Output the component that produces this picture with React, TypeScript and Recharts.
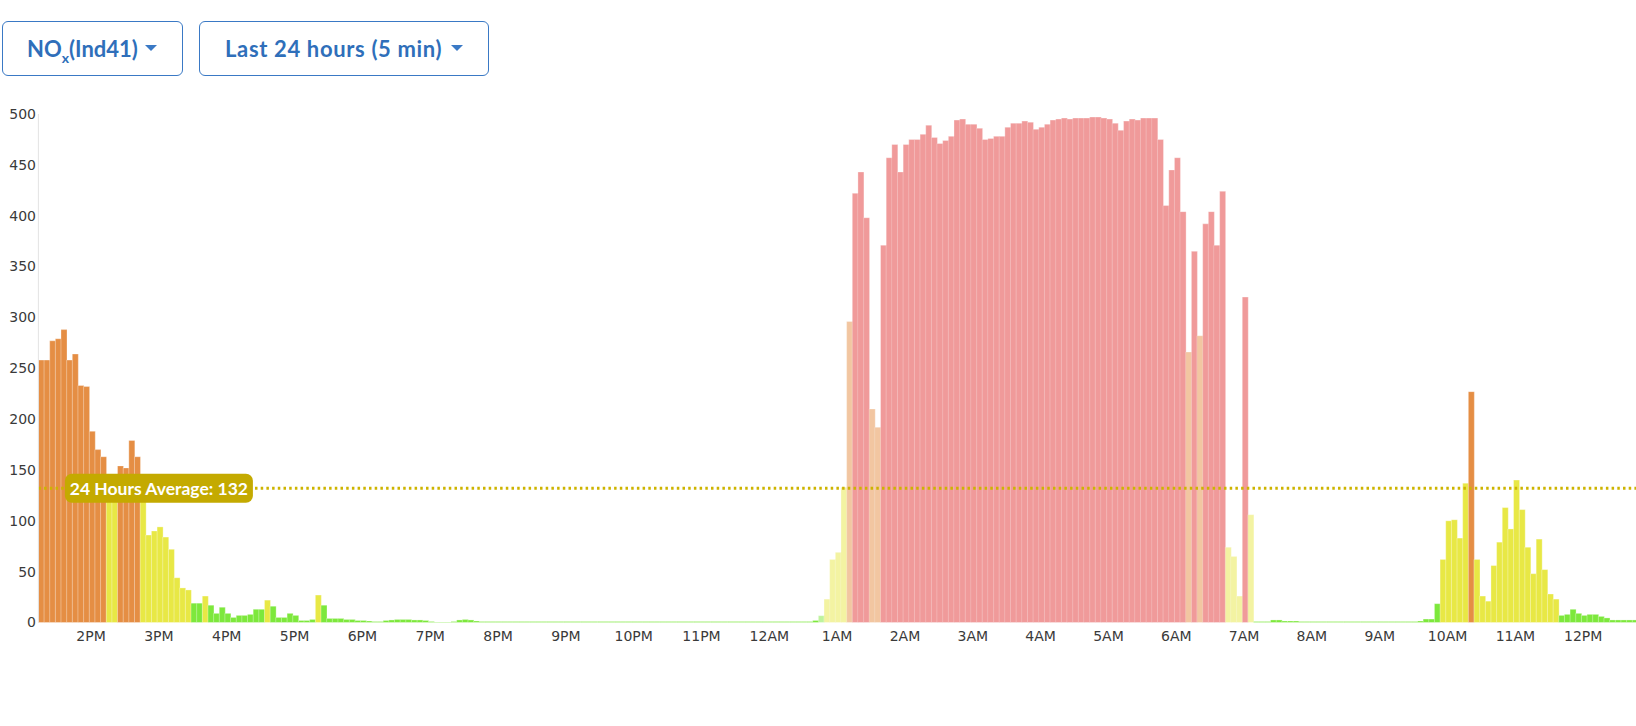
import React from "react";
import { Bar, BarChart, Cell, ReferenceLine, XAxis, YAxis } from "recharts";

// 5-minute NOx readings, first slot = 1:15 PM
const afternoonValues = [
  258, 258, 277, 279, 288, 258, 264, 233, 232, 188, 170, 163,
  140, 138, 154, 152, 179, 163, 125, 86, 90, 94, 84, 72,
  44, 34, 32, 19, 19, 26, 17, 9, 15, 9, 5, 7,
  7, 8, 13, 13, 22, 16, 5, 5, 9, 7, 2, 2,
  3, 27, 17, 4, 4, 4, 3, 3, 2, 2, 1.5, 1,
];
const eveningValues = [
  1, 2, 2.5, 3, 3, 3, 2.5, 2.5, 2, 1, 0.5, 0.5,
  0.5, 1, 2.5, 3, 2.5, 1.5, 1, 1, 1, 1, 1, 1,
  1, 1, 1, 1, 1, 1, 1, 1, 1, 1, 1, 1,
  1, 1, 1, 1, 1, 1, 1, 1, 1, 1, 1, 1,
  1, 1, 1, 1, 1, 1, 1, 1, 1, 1, 1, 1,
  1, 1, 1, 1, 1, 1, 1, 1, 1, 1, 1, 1,
  1, 1, 1, 1, 1, 2,
];
const nightValues = [
  6.7, 23, 62, 69, 133, 296, 422, 443, 398, 210, 192, 371,
  457, 470, 443, 470, 475, 475, 480, 489, 477, 471, 474, 478,
  494, 495, 490, 490, 486, 475, 476, 478, 478, 487, 491, 491,
  493, 492, 485, 487, 490, 494, 495, 496, 495, 496, 496, 496,
  497, 497, 496, 495, 491, 484, 493, 495, 494, 496, 496, 496,
  475, 410, 445, 457, 404, 266, 365, 282, 392, 404, 371, 424,
  74, 65, 26, 320, 106,
];
const morningValues = [
  1, 1, 1, 2.5, 2.5, 1.5, 1.5, 1.5, 1, 1, 1, 1,
  1, 1, 1, 1, 1, 1, 1, 1, 1, 1, 1, 1,
  1, 1, 1, 1, 1, 1.5, 3.4, 3.4, 18.5, 62, 100, 101,
  83, 137, 227, 62, 26, 21, 56, 79, 113, 92, 140, 111,
  74, 48, 82, 52, 28, 23, 7, 8, 13, 9, 7, 8,
  8, 6, 4.5, 2.5, 2.5, 2.5, 2.5, 2.5,
];

const hourLabels = [
  "2PM", "3PM", "4PM", "5PM", "6PM", "7PM", "8PM", "9PM", "10PM", "11PM", "12AM",
  "1AM", "2AM", "3AM", "4AM", "5AM", "6AM", "7AM", "8AM", "9AM", "10AM", "11AM", "12PM",
];
const yTicks = [0, 50, 100, 150, 200, 250, 300, 350, 400, 450, 500];

const FIRST_HOUR_SLOT = 9; // 2PM
const SLOTS_PER_HOUR = 12;
const AVERAGE = 132;

// level thresholds -> colour
const levelLimits = [20, 150, 300, Infinity];
const levelColors = ["#7de83c", "#e8e845", "#e58e44", "#e23535"];

// the night block is drawn faded
const fadedStart = afternoonValues.length + eveningValues.length;
const fadedEnd = fadedStart + nightValues.length;

const values = [...afternoonValues, ...eveningValues, ...nightValues, ...morningValues];
const data = values.map((v, i) => ({ slot: i, v }));

const colorFor = (v: number) => levelColors[levelLimits.findIndex((l) => v < l)];

const FONT = "'DejaVu Sans', sans-serif";

function HourTick({ x, payload }: any) {
  const h = payload.value - FIRST_HOUR_SLOT;
  if (h < 0 || h % SLOTS_PER_HOUR !== 0) return <g />;
  const label = hourLabels[h / SLOTS_PER_HOUR];
  if (!label) return <g />;
  return (
    <text x={x - 1} y={641} textAnchor="middle" fontFamily={FONT} fontSize={14} fill="#3a3a3a">
      {label}
    </text>
  );
}

function ValueTick({ y, payload }: any) {
  return (
    <text x={36} y={y} dy="0.35em" textAnchor="end" fontFamily={FONT} fontSize={14} fill="#3a3a3a">
      {payload.value}
    </text>
  );
}

function AverageLabel({ viewBox }: any) {
  const x = viewBox.x + 26.5;
  const y = viewBox.y - 14.5;
  return (
    <g>
      <rect x={x} y={y} width={188} height={29} rx={7} fill="#c4aa00" />
      <text
        x={x + 94}
        y={y + 15}
        dy="0.35em"
        textAnchor="middle"
        fill="#fff"
        fontFamily="Lato, sans-serif"
        fontWeight={700}
        fontSize={17.5}
      >
        24 Hours Average: {AVERAGE}
      </text>
    </g>
  );
}

function Caret({ left }: { left: number }) {
  return (
    <div
      style={{
        position: "absolute",
        left,
        top: 45,
        width: 0,
        height: 0,
        borderLeft: "6px solid transparent",
        borderRight: "6px solid transparent",
        borderTop: "6px solid #3a79c5",
      }}
    />
  );
}

const buttonStyle: React.CSSProperties = {
  position: "absolute",
  top: 21,
  height: 55,
  boxSizing: "border-box",
  border: "1px solid #3a79c5",
  borderRadius: 6,
  background: "#fff",
};

const buttonText: React.CSSProperties = {
  position: "absolute",
  top: 0,
  lineHeight: "53px",
  fontFamily: "Lato, sans-serif",
  fontWeight: 700,
  fontSize: 22,
  color: "#2f6fba",
  whiteSpace: "nowrap",
};

export default function App() {
  return (
    <div
      style={{
        position: "absolute",
        left: 0,
        top: 0,
        width: 1636,
        height: 726,
        overflow: "hidden",
        background: "#fff",
      }}
    >
      <div style={{ ...buttonStyle, left: 2, width: 181 }}>
        <span style={{ ...buttonText, left: 24 }}>
          NO<sub style={{ fontSize: 14, verticalAlign: "-6px" }}>x</sub>(Ind41)
        </span>
      </div>
      <Caret left={145} />
      <div style={{ ...buttonStyle, left: 199, width: 290 }}>
        <span style={{ ...buttonText, left: 25, letterSpacing: 0.65 }}>Last 24 hours (5 min)</span>
      </div>
      <Caret left={451} />

      <div style={{ position: "absolute", left: 0, top: 0 }}>
        <BarChart
          width={1640}
          height={700}
          data={data}
          margin={{ top: 114, right: 2.1, bottom: 47.5, left: 0 }}
          barCategoryGap={0}
          barGap={0}
        >
          <XAxis
            dataKey="slot"
            type="category"
            interval={0}
            height={30}
            axisLine={false}
            tickLine={false}
            tick={<HourTick />}
          />
          <YAxis
            width={38.4}
            domain={[0, 500]}
            ticks={yTicks}
            axisLine={{ stroke: "#e4e4e4" }}
            tickLine={false}
            tick={<ValueTick />}
          />
          <Bar dataKey="v" isAnimationActive={false} stroke="#ffffff" strokeOpacity={0.3} strokeWidth={1}>
            {data.map((d) => (
              <Cell
                key={d.slot}
                fill={colorFor(d.v)}
                fillOpacity={d.slot >= fadedStart && d.slot < fadedEnd ? 0.5 : 1}
              />
            ))}
          </Bar>
          <ReferenceLine
            y={AVERAGE}
            stroke="#cdb400"
            strokeWidth={3}
            strokeDasharray="2.5 3.2"
            label={<AverageLabel />}
          />
        </BarChart>
      </div>
    </div>
  );
}
